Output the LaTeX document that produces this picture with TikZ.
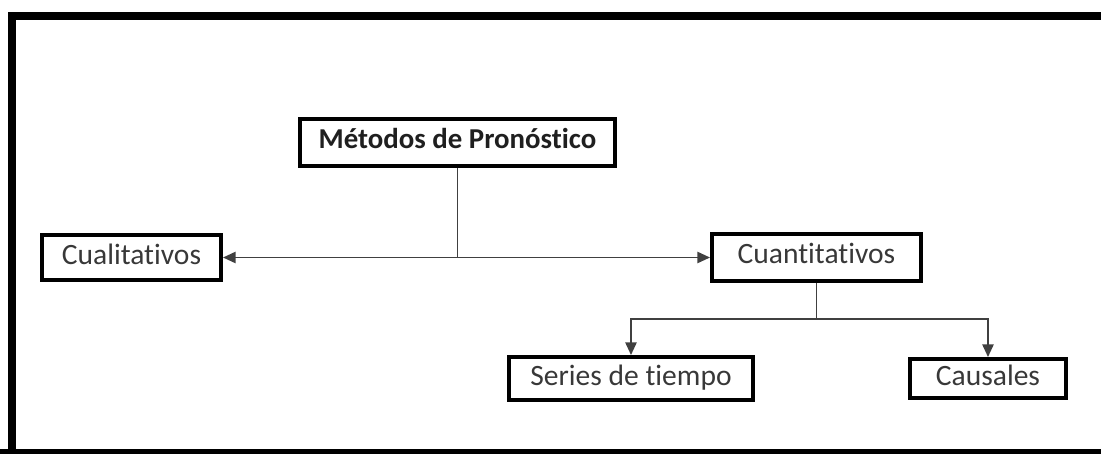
\documentclass[tikz,border=0pt]{standalone}
\usepackage{fontspec}
\setmainfont{Carlito}[RawFeature={-liga}]
\usetikzlibrary{arrows.meta,positioning}

\begin{document}
\begin{tikzpicture}[x=0.025cm,y=-0.025cm,
    caja/.style={draw,rectangle,line width=2.8pt,inner sep=0pt,
      font=\fontsize{21}{25}\selectfont,text=black!78,text height=0.92em,text depth=0pt},
    baja/.style={text height=1.04em},
    linea/.style={line width=1.3pt,draw=black!75},
    flecha/.style={linea,-{Triangle[length=9pt,width=8pt]}}]
    \useasboundingbox (0,0) rectangle (1101,454);
    % marco
    \draw [line width=5.7pt] (12,470) -- (12,16) -- (1120,16);
    \draw [line width=5.7pt] (0,453) -- (1120,453);

    \node [caja,minimum width=7.875cm,minimum height=1.175cm,font=\fontsize{20.5}{25}\selectfont\bfseries,text=black!88] (metodos) at (457.5, 142.5) {Métodos de Pronóstico};
    \node [caja,baja,minimum width=4.475cm,minimum height=1.125cm] (cuali) at (131.5, 257.5) {Cualitativos};
    \node [caja,minimum width=5.225cm,minimum height=1.175cm] (cuanti) at (816.5, 257.5) {Cuantitativos};
    \node [caja,baja,minimum width=6.1cm,minimum height=1.075cm] (series) at (631, 378.5) {Series de tiempo};
    \node [caja,baja,minimum width=3.9cm,minimum height=0.975cm] (causales) at (988, 378.5) {Causales};

    \coordinate (cruce) at (metodos.south |- cuali.east);
    \coordinate (rama) at (816.5, 319);

    \draw [linea] (metodos.south) -- (cruce);
    \draw [flecha] (cruce) -- (cuali.east);
    \draw [flecha] (cruce) -- (cuanti.west);
    \draw [linea] (cuanti.south) -- (rama);
    \draw [flecha] (rama) -| (series.north);
    \draw [flecha] (rama) -| (causales.north);
  \end{tikzpicture}
\end{document}
